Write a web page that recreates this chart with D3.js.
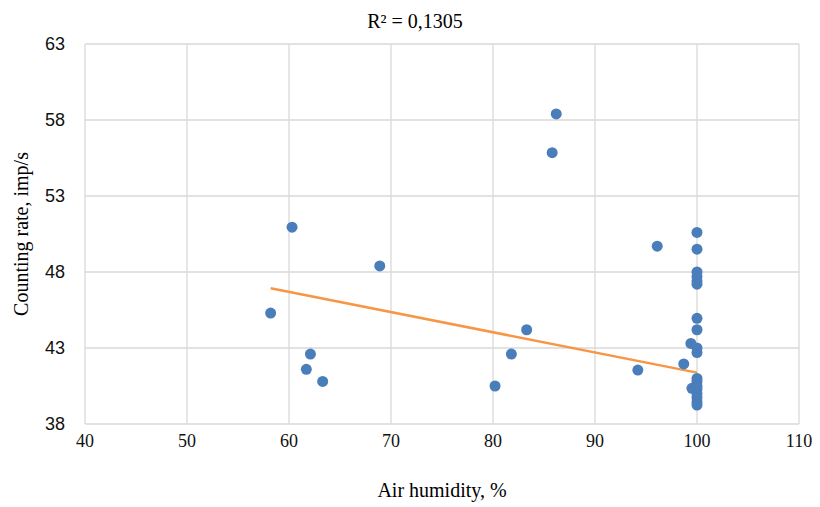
<!DOCTYPE html>
<meta charset="utf-8">
<script src="https://d3js.org/d3.v7.min.js"></script>
<style>
  body { margin: 0; background: #fff; }
</style>
<div id="chart"></div>
<script>

// air humidity (%) and counting rate (imp/s)
var humidity = [58.2, 60.3, 62.1, 61.7, 63.3, 68.9, 80.2, 81.8, 83.3, 86.2, 85.8, 96.1, 94.2,
  100, 100, 100, 100, 100, 100, 100, 100, 99.4, 100, 100, 98.7,
  100, 100, 100, 100, 100, 100, 100, 100, 99.5];
var rate = [45.3, 50.95, 42.6, 41.6, 40.8, 48.4, 40.5, 42.6, 44.2, 58.4, 55.85, 49.7, 41.55,
  50.6, 49.5, 48.0, 47.7, 47.4, 47.2, 44.95, 44.2, 43.3, 43.0, 42.7, 41.95,
  41.0, 40.8, 40.5, 40.3, 40.0, 39.75, 39.45, 39.25, 40.35];

// linear trend line end points
var trendX = [58.2, 100];
var trendY = [46.93, 41.38];

var xTicks = [40, 50, 60, 70, 80, 90, 100, 110];
var yTicks = [38, 43, 48, 53, 58, 63];

var width = 820, height = 507;
var margin = {top: 44, right: 21, bottom: 83, left: 85};

var svg = d3.select("#chart")
  .append("svg")
  .attr("width", width)
  .attr("height", height);

var x = d3.scaleLinear().domain([40, 110]).range([margin.left, width - margin.right]);
var y = d3.scaleLinear().domain([38, 63]).range([height - margin.bottom, margin.top]);

// grid lines
svg.append("g")
  .selectAll("line")
  .data(xTicks)
  .enter()
  .append("line")
  .attr("x1", function(d) { return x(d); })
  .attr("x2", function(d) { return x(d); })
  .attr("y1", y(38))
  .attr("y2", y(63))
  .style("stroke", "#d9d9d9")
  .style("stroke-width", 1.3);

svg.append("g")
  .selectAll("line")
  .data(yTicks)
  .enter()
  .append("line")
  .attr("x1", x(40))
  .attr("x2", x(110))
  .attr("y1", function(d) { return y(d); })
  .attr("y2", function(d) { return y(d); })
  .style("stroke", "#d9d9d9")
  .style("stroke-width", 1.3);

// tick labels
svg.append("g")
  .selectAll("text")
  .data(xTicks)
  .enter()
  .append("text")
  .attr("x", function(d) { return x(d); })
  .attr("y", y(38) + 23)
  .attr("text-anchor", "middle")
  .style("font-family", "Liberation Serif")
  .style("font-size", "18px")
  .style("fill", "#111")
  .text(function(d) { return d; });

svg.append("g")
  .selectAll("text")
  .data(yTicks)
  .enter()
  .append("text")
  .attr("x", x(40) - 20)
  .attr("y", function(d) { return y(d) + 6; })
  .attr("text-anchor", "end")
  .style("font-family", "Liberation Sans Narrow, Liberation Sans")
  .style("font-size", "18px")
  .style("fill", "#111")
  .text(function(d) { return d; });

// trend line
svg.append("path")
  .datum(d3.zip(trendX, trendY))
  .attr("d", d3.line().x(function(d) { return x(d[0]); }).y(function(d) { return y(d[1]); }))
  .style("fill", "none")
  .style("stroke", "#f79646")
  .style("stroke-width", 2.5);

// points
svg.append("g")
  .selectAll("circle")
  .data(d3.zip(humidity, rate))
  .enter()
  .append("circle")
  .attr("cx", function(d) { return x(d[0]); })
  .attr("cy", function(d) { return y(d[1]); })
  .attr("r", 5.5)
  .style("fill", "#4a7ebb");

// titles
svg.append("text")
  .attr("x", 415)
  .attr("y", 28)
  .attr("text-anchor", "middle")
  .style("font-family", "Liberation Serif")
  .style("font-size", "20px")
  .style("fill", "#000")
  .text("R² = 0,1305");

svg.append("text")
  .attr("x", (x(40) + x(110)) / 2)
  .attr("y", 497)
  .attr("text-anchor", "middle")
  .style("font-family", "Liberation Serif")
  .style("font-size", "20px")
  .style("fill", "#000")
  .text("Air humidity, %");

svg.append("text")
  .attr("transform", "translate(28," + ((y(38) + y(63)) / 2) + ") rotate(-90)")
  .attr("text-anchor", "middle")
  .style("font-family", "Liberation Serif")
  .style("font-size", "20px")
  .style("fill", "#000")
  .text("Counting rate, imp/s");

</script>
